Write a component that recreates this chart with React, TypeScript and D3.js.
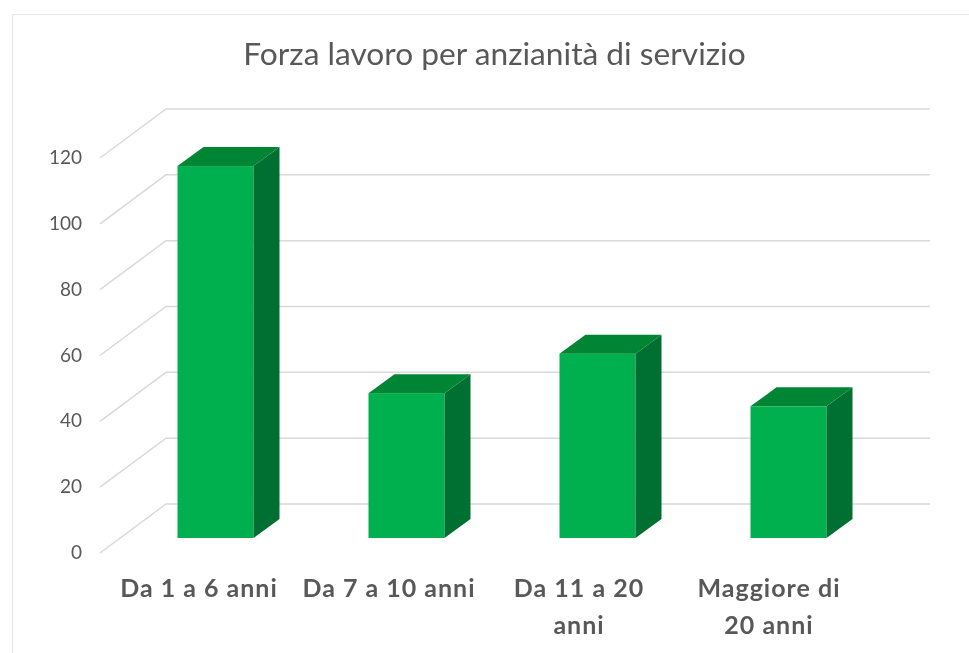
import * as d3 from 'd3';

const categories = ['Da 1 a 6 anni', 'Da 7 a 10 anni', 'Da 11 a 20 anni', 'Maggiore di 20 anni'];
const values = [113, 44, 56, 40];
const categoryLines = [['Da 1 a 6 anni'], ['Da 7 a 10 anni'], ['Da 11 a 20', 'anni'], ['Maggiore di', '20 anni']];
const yTicks = [0, 20, 40, 60, 80, 100, 120];

const width = 969;
const height = 653;

// floor depth of the 3d box, from the front edge of the axis to the back wall
const wallDx = 66;
const wallDy = -49;
// depth of each bar
const barDx = 26;
const barDy = -19;

const font = 'Lato, sans-serif';
const textColor = '#595959';
const gridColor = '#d9d9d9';

export default function App() {
  // y scale sits on the front plane of the axis
  const yAxis = d3.scaleLinear().domain([0, 120]).range([553, 158]);
  // bars stand a bit further back than the axis front edge
  const yBar = (v: number) => yAxis(v) - 15;

  const xBar = d3.scaleBand<string>().domain(categories).range([120, 884]).paddingInner(0.602).paddingOuter(0.301);
  const xLabel = d3.scaleBand<string>().domain(categories).range([104, 864]);

  const axisX = 100;
  const wallRight = 930;

  return (
    <svg
      width={width}
      height={height}
      style={{ position: 'absolute', left: 0, top: 0, background: '#fff' }}
    >
      {/* the source is a soft upscaled screenshot */}
      <defs>
        <filter id="soft" x="0" y="0" width="100%" height="100%">
          <feGaussianBlur stdDeviation={0.45} />
        </filter>
      </defs>
      <g filter="url(#soft)">
        <rect width={width} height={height} fill="#fff" />
        {/* chart frame */}
        <path d={`M12.5 ${height} V14.5 H${width}`} fill="none" stroke="#e6e6e6" strokeWidth={1} />

        <text x={494.5} y={65} textAnchor="middle" fontFamily={font} fontSize={31.7} fill={textColor}>
          Forza lavoro per anzianità di servizio
        </text>

        {/* gridlines: floor edge then back wall */}
        {yTicks.map((t) => (
          <g key={t}>
            <polyline
              points={`${axisX},${yAxis(t)} ${axisX + wallDx},${yAxis(t) + wallDy} ${wallRight},${yAxis(t) + wallDy}`}
              fill="none"
              stroke={gridColor}
              strokeWidth={1.5}
            />
            <text
              x={82}
              y={yAxis(t) + 6}
              textAnchor="end"
              fontFamily={font}
              fontSize={19}
              fill={textColor}
            >
              {t}
            </text>
          </g>
        ))}

        {/* bars */}
        {categories.map((c, i) => {
          const x0 = xBar(c)!;
          const x1 = x0 + xBar.bandwidth();
          const top = yBar(values[i]);
          const bottom = yBar(0);
          return (
            <g key={c}>
              <rect x={x0} y={top} width={x1 - x0} height={bottom - top} fill="#00b050" />
              <polygon
                points={`${x1},${top} ${x1 + barDx},${top + barDy} ${x1 + barDx},${bottom + barDy} ${x1},${bottom}`}
                fill="#006f30"
              />
              <polygon
                points={`${x0},${top} ${x0 + barDx},${top + barDy} ${x1 + barDx},${top + barDy} ${x1},${top}`}
                fill="#008535"
              />
            </g>
          );
        })}

        {/* category labels */}
        {categories.map((c, i) => (
          <text
            key={c}
            textAnchor="middle"
            fontFamily={font}
            fontSize={25}
            fontWeight={700}
            letterSpacing={1}
            fill={textColor}
          >
            {categoryLines[i].map((line, j) => (
              <tspan key={line} x={xLabel(c)! + xLabel.bandwidth() / 2} y={597 + j * 37}>
                {line}
              </tspan>
            ))}
          </text>
        ))}
      </g>
    </svg>
  );
}
